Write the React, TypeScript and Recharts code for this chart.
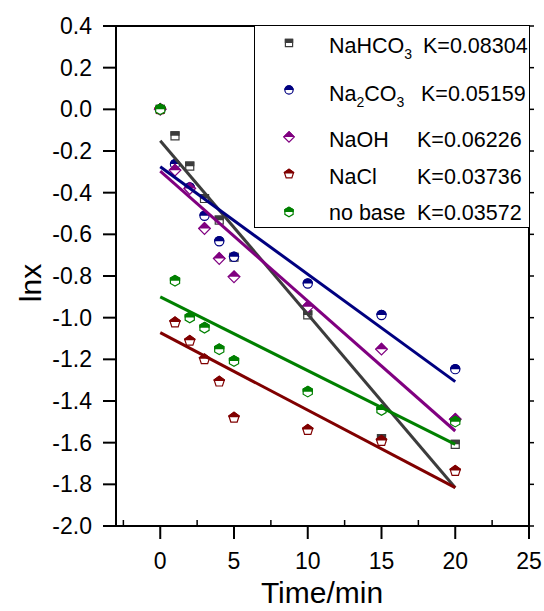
import { Scatter, ScatterChart, XAxis, YAxis } from "recharts";

// sampling times (min)
const times = [0, 1, 2, 3, 4, 5, 10, 15, 20];

// ln x values
const nahco3 = [0, -0.127, -0.273, -0.428, -0.532, -0.71, -0.987, -1.58, -1.608];
const na2co3 = [0, -0.263, -0.375, -0.511, -0.633, -0.708, -0.836, -0.987, -1.247];
const naoh = [0, -0.292, -0.38, -0.572, -0.716, -0.804, -0.948, -1.151, -1.488];
const nacl = [0, -1.023, -1.111, -1.2, -1.307, -1.48, -1.539, -1.592, -1.736];
const noBase = [0, -0.823, -0.999, -1.048, -1.152, -1.208, -1.355, -1.443, -1.499];

// fitted lines, value at t=0 and t=20
const fitTimes = [0, 20];
const fitStart = [-0.151, -0.276, -0.297, -1.072, -0.9];
const fitEnd = [-1.816, -1.307, -1.544, -1.816, -1.608];

const seriesNames = ["NaHCO3", "Na2CO3", "NaOH", "NaCl", "no base"];
const kValues = ["K=0.08304", "K=0.05159", "K=0.06226", "K=0.03736", "K=0.03572"];

const xTicks = [-2.5, 0, 2.5, 5, 7.5, 10, 12.5, 15, 17.5, 20, 22.5, 25];
const yTicks = [
  -2.0, -1.9, -1.8, -1.7, -1.6, -1.5, -1.4, -1.3, -1.2, -1.1, -1.0, -0.9, -0.8,
  -0.7, -0.6, -0.5, -0.4, -0.3, -0.2, -0.1, 0.0, 0.1, 0.2, 0.3, 0.4,
];

const colors = ["#3c3c3c", "#000080", "#800080", "#800000", "#008000"];
const kinds = ["square", "circle", "diamond", "pentagon", "hexagon"];
const FONT = '"Liberation Sans", Arial, sans-serif';

const allValues = [nahco3, na2co3, naoh, nacl, noBase];

function polyPath(cx: number, cy: number, r: number, n: number, start: number) {
  const pts: string[] = [];
  for (let i = 0; i < n; i++) {
    const a = ((start + (360 / n) * i) * Math.PI) / 180;
    pts.push(`${(cx + r * Math.cos(a)).toFixed(2)},${(cy + r * Math.sin(a)).toFixed(2)}`);
  }
  return `M${pts.join("L")}Z`;
}

function markerPath(kind: string, cx: number, cy: number, s: number) {
  switch (kind) {
    case "square":
      return `M${cx - 4 * s},${cy - 4 * s}h${8 * s}v${8 * s}h${-8 * s}Z`;
    case "circle": {
      const r = 4.6 * s;
      return `M${cx - r},${cy}A${r},${r} 0 1 1 ${cx + r},${cy}A${r},${r} 0 1 1 ${cx - r},${cy}Z`;
    }
    case "diamond":
      return polyPath(cx, cy, 5.8 * s, 4, -90);
    case "pentagon":
      return polyPath(cx, cy, 5.4 * s, 5, -90);
    default:
      return polyPath(cx, cy, 5.3 * s, 6, -90);
  }
}

function HalfMarker({ kind, cx, cy, color, s = 1 }: any) {
  if (cx == null || cy == null) return <g />;
  const d = markerPath(kind, cx, cy, s);
  return (
    <g>
      <path d={d} fill="#fff" stroke={color} strokeWidth={1.2} />
      <path d={d} fill={color} stroke={color} strokeWidth={1.2} clipPath="url(#topHalf)" />
    </g>
  );
}

function BottomTick({ x, y, payload }: any) {
  const major = payload.value % 5 === 0;
  if (!major) return <line x1={x} x2={x} y1={y} y2={y - 6} stroke="#000" strokeWidth={1.5} />;
  return (
    <g>
      <line x1={x} x2={x} y1={y} y2={y + 13} stroke="#000" strokeWidth={2} />
      <text x={x} y={y + 43} textAnchor="middle" fontSize={23} fontFamily={FONT} fill="#000">
        {payload.value}
      </text>
    </g>
  );
}

function LeftTick({ x, y, payload }: any) {
  const major = Math.round(payload.value * 10) % 2 === 0;
  if (!major) return <line x1={x} x2={x + 6} y1={y} y2={y} stroke="#000" strokeWidth={1.5} />;
  return (
    <g>
      <line x1={x} x2={x - 13} y1={y} y2={y} stroke="#000" strokeWidth={2} />
      <text x={x - 24} y={y + 8} textAnchor="end" fontSize={23} fontFamily={FONT} fill="#000">
        {payload.value.toFixed(1)}
      </text>
    </g>
  );
}

function RightTick({ x, y }: any) {
  return <line x1={x} x2={x + 5} y1={y} y2={y} stroke="#000" strokeWidth={1.5} />;
}

function TopTick({ x, y }: any) {
  return <line x1={x} x2={x} y1={y} y2={y + 5} stroke="#000" strokeWidth={1.5} />;
}

function LegendLabel({ name, x, y }: { name: string; x: number; y: number }) {
  const sub = (d: string) => (
    <tspan fontSize={14} dy={6}>
      {d}
    </tspan>
  );
  if (name === "NaHCO3")
    return (
      <text x={x} y={y} fontSize={21.5} fontFamily={FONT} fill="#000">
        NaHCO{sub("3")}
      </text>
    );
  if (name === "Na2CO3")
    return (
      <text x={x} y={y} fontSize={21.5} fontFamily={FONT} fill="#000">
        Na{sub("2")}
        <tspan dy={-6}>CO</tspan>
        {sub("3")}
      </text>
    );
  return (
    <text x={x} y={y} fontSize={21.5} fontFamily={FONT} fill="#000">
      {name}
    </text>
  );
}

const legendRows = [
  { my: 17, ty: 27, kx: 168 },
  { my: 64, ty: 75, kx: 166 },
  { my: 111, ty: 121, kx: 162 },
  { my: 148, ty: 158, kx: 162 },
  { my: 186, ty: 194, kx: 162 },
];

export default function App() {
  const pointData = allValues.map((vals) =>
    times.map((t, i) => ({ x: t, y: vals[i] }))
  );
  const lineData = fitStart.map((v, i) => [
    { x: fitTimes[0], y: v },
    { x: fitTimes[1], y: fitEnd[i] },
  ]);

  return (
    <div style={{ position: "absolute", left: 0, top: 0, width: 544, height: 611, background: "#fff" }}>
      <svg width={0} height={0} style={{ position: "absolute" }}>
        <defs>
          <clipPath id="topHalf" clipPathUnits="objectBoundingBox">
            <rect x={-0.2} y={-0.2} width={1.4} height={0.7} />
          </clipPath>
        </defs>
      </svg>
      <ScatterChart width={544} height={611} margin={{ top: 16, right: 0, bottom: 0, left: 0 }}>
        <XAxis
          xAxisId="b"
          type="number"
          dataKey="x"
          domain={[-3, 25]}
          ticks={xTicks}
          allowDataOverflow
          height={85}
          tickSize={0}
          tickMargin={0}
          tickLine={false}
          axisLine={{ stroke: "#000", strokeWidth: 2 }}
          tick={BottomTick}
          label={() => (
            <text x={322} y={603} textAnchor="middle" fontSize={30} fontFamily={FONT} fill="#000">
              Time/min
            </text>
          )}
        />
        <XAxis
          xAxisId="t"
          orientation="top"
          type="number"
          domain={[-3, 25]}
          ticks={xTicks}
          allowDataOverflow
          height={10}
          tickSize={0}
          tickMargin={0}
          tickLine={false}
          axisLine={{ stroke: "#000", strokeWidth: 2 }}
          tick={TopTick}
        />
        <YAxis
          yAxisId="l"
          type="number"
          dataKey="y"
          domain={[-2, 0.4]}
          ticks={yTicks}
          allowDataOverflow
          width={116}
          tickSize={0}
          tickMargin={0}
          tickLine={false}
          axisLine={{ stroke: "#000", strokeWidth: 2 }}
          tick={LeftTick}
          label={() => (
            <text
              x={41}
              y={283}
              transform="rotate(-90 41 283)"
              textAnchor="middle"
              fontSize={30}
              fontFamily={FONT}
              fill="#000"
            >
              lnx
            </text>
          )}
        />
        <YAxis
          yAxisId="r"
          orientation="right"
          type="number"
          domain={[-2, 0.4]}
          ticks={yTicks}
          allowDataOverflow
          width={15}
          tickSize={0}
          tickMargin={0}
          tickLine={false}
          axisLine={{ stroke: "#000", strokeWidth: 2 }}
          tick={RightTick}
        />
        {pointData.map((d, i) => (
          <Scatter
            key={seriesNames[i]}
            name={seriesNames[i]}
            data={d}
            xAxisId="b"
            yAxisId="l"
            isAnimationActive={false}
            shape={(p: any) => <HalfMarker kind={kinds[i]} cx={p.cx} cy={p.cy} color={colors[i]} />}
          />
        ))}
        {lineData.map((d, i) => (
          <Scatter
            key={`fit-${i}`}
            data={d}
            xAxisId="b"
            yAxisId="l"
            isAnimationActive={false}
            line={{ stroke: colors[i], strokeWidth: 3 }}
            shape={() => <g />}
          />
        ))}
      </ScatterChart>
      <div
        style={{
          position: "absolute",
          left: 254,
          top: 25,
          width: 276,
          height: 203,
          boxSizing: "border-box",
          border: "1.5px solid #000",
          background: "#fff",
        }}
      >
        <svg width={273} height={200} style={{ position: "absolute", left: 0, top: 0 }}>
          {legendRows.map((r, i) => (
            <g key={seriesNames[i]}>
              <HalfMarker kind={kinds[i]} cx={34} cy={r.my} color={colors[i]} s={0.9} />
              <LegendLabel name={seriesNames[i]} x={74} y={r.ty} />
              <text x={r.kx} y={r.ty} fontSize={21.5} fontFamily={FONT} fill="#000">
                {kValues[i]}
              </text>
            </g>
          ))}
        </svg>
      </div>
    </div>
  );
}
